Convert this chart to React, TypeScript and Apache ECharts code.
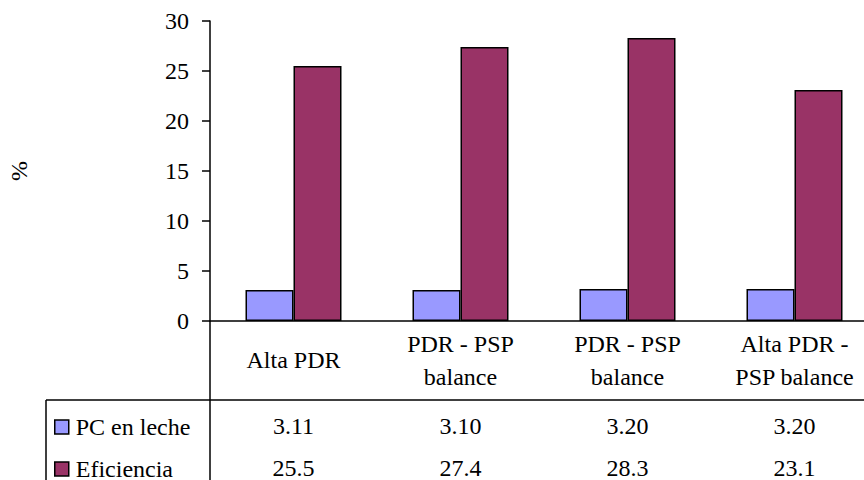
import React, { useEffect, useRef } from "react";
import * as echarts from "echarts";

const categories = ["Alta PDR", "PDR - PSP\nbalance", "PDR - PSP\nbalance", "Alta PDR -\nPSP balance"];
const seriesNames = ["PC en leche", "Eficiencia"];
const pcValues = [3.11, 3.1, 3.2, 3.2];
const efValues = [25.5, 27.4, 28.3, 23.1];
const pcLabels = pcValues.map((v) => v.toFixed(2));
const efLabels = efValues.map((v) => v.toFixed(1));
const yTicks = { min: 0, max: 30, interval: 5 };

const FONT = "Liberation Serif";

export default function App() {
  const ref = useRef<HTMLDivElement>(null);
  useEffect(() => {
    if (!ref.current) return;
    const chart = echarts.init(ref.current, undefined, { renderer: "svg" });
    const labelBase = { fontFamily: FONT, fontSize: 24, color: "#000" };
    const hiddenAxis = {
      axisLine: { show: false },
      axisTick: { show: false },
      splitLine: { show: false },
    };
    const legendBase = {
      orient: "vertical",
      left: 54,
      padding: 0,
      itemWidth: 14,
      itemHeight: 14,
      icon: "rect",
      itemStyle: { borderColor: "#000", borderWidth: 1.5 },
      textStyle: { ...labelBase, lineHeight: 24, padding: [0, 0, 0, 2] },
    };
    chart.setOption({
      animation: false,
      backgroundColor: "#fff",
      textStyle: { fontFamily: FONT },
      grid: {
        left: 210,
        top: 21,
        width: 668,
        height: 300,
        containLabel: false,
        outerBoundsMode: "none",
      },
      legend: [
        { ...legendBase, top: 415, data: [seriesNames[0]] },
        { ...legendBase, top: 457, data: [seriesNames[1]] },
      ],
      xAxis: [
        {
          type: "category",
          position: "bottom",
          data: categories,
          axisLine: { show: true, lineStyle: { color: "#000", width: 1.5 } },
          axisTick: { show: false },
          splitLine: { show: false },
          axisLabel: { ...labelBase, margin: 39, verticalAlign: "middle", lineHeight: 33, interval: 0 },
        },
        {
          type: "category",
          position: "bottom",
          data: pcLabels,
          ...hiddenAxis,
          axisLabel: { ...labelBase, margin: 105, verticalAlign: "middle", interval: 0 },
        },
        {
          type: "category",
          position: "bottom",
          data: efLabels,
          ...hiddenAxis,
          axisLabel: { ...labelBase, margin: 147, verticalAlign: "middle", interval: 0 },
        },
      ],
      yAxis: {
        type: "value",
        min: yTicks.min,
        max: yTicks.max,
        interval: yTicks.interval,
        name: "%",
        nameLocation: "middle",
        nameGap: 179,
        nameRotate: 90,
        nameTextStyle: { ...labelBase },
        axisLine: { show: true, lineStyle: { color: "#000", width: 1.5 } },
        axisTick: { show: true, length: 8, lineStyle: { color: "#000", width: 1.5 } },
        splitLine: { show: false },
        axisLabel: { ...labelBase, margin: 21 },
      },
      series: [
        {
          name: seriesNames[0],
          type: "bar",
          xAxisIndex: 0,
          data: pcValues,
          barWidth: 48,
          itemStyle: { color: "#9999FF", borderColor: "#000", borderWidth: 1.5 },
        },
        {
          name: seriesNames[1],
          type: "bar",
          xAxisIndex: 0,
          data: efValues,
          barWidth: 48,
          barGap: "0%",
          itemStyle: { color: "#993366", borderColor: "#000", borderWidth: 1.5 },
        },
      ],
      graphic: [
        { type: "line", shape: { x1: 46, y1: 400, x2: 864, y2: 400 }, style: { stroke: "#000", lineWidth: 1.5 } },
        { type: "line", shape: { x1: 46, y1: 400, x2: 46, y2: 480 }, style: { stroke: "#000", lineWidth: 1.5 } },
        { type: "line", shape: { x1: 210, y1: 321, x2: 210, y2: 480 }, style: { stroke: "#000", lineWidth: 1.5 } },
      ],
    });
    return () => chart.dispose();
  }, []);
  return (
    <div
      ref={ref}
      style={{ position: "fixed", left: 0, top: 0, width: 864, height: 480, background: "#fff" }}
    />
  );
}
